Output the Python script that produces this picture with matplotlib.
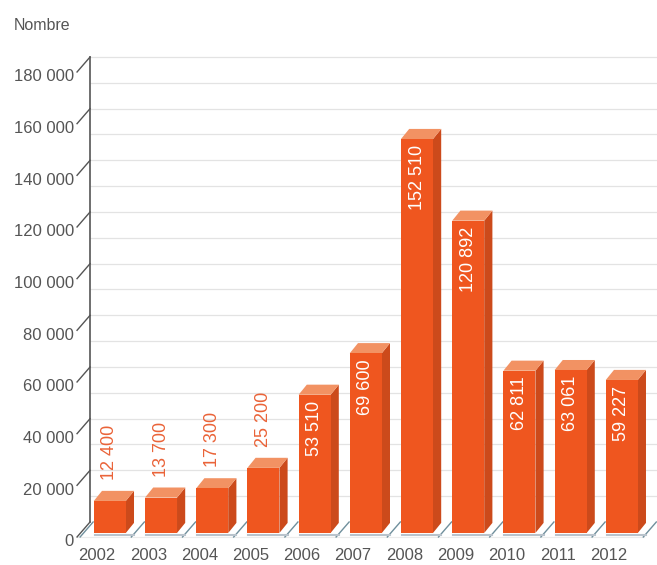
import numpy as np
import matplotlib
matplotlib.use("Agg")
import matplotlib.pyplot as plt
from matplotlib.patches import Polygon

plt.rcParams['font.family'] = ['Liberation Sans', 'DejaVu Sans']

# data
years = ['2002', '2003', '2004', '2005', '2006', '2007',
         '2008', '2009', '2010', '2011', '2012']
values = [12400, 13700, 17300, 25200, 53510, 69600,
          152510, 120892, 62811, 63061, 59227]
value_labels = ['12 400', '13 700', '17 300', '25 200', '53 510', '69 600',
                '152 510', '120 892', '62 811', '63 061', '59 227']
yticks = [0, 20000, 40000, 60000, 80000, 100000, 120000, 140000, 160000, 180000]
ytick_labels = ['0', '20 000', '40 000', '60 000', '80 000', '100 000',
                '120 000', '140 000', '160 000', '180 000']

front = '#EF561F'
side = '#CC4A1B'
top = '#F29263'
text_grey = '#555555'

fig = plt.figure(figsize=(6.57, 5.65), dpi=100)
ax = fig.add_axes([0.1087, 0.0496, 0.8572, 0.823])
ax.set_xlim(-0.5, 10.5)
ax.set_ylim(0, 180000)
for s in ax.spines.values():
    s.set_visible(False)
ax.set_yticks([])

# depth of the fake 3D (data units)
wall_dx, wall_dy = 0.254, 5800
bar_dx, bar_dy = 0.16, 3900
rec_dx, rec_dy = 0.25, 1550
bar_w = 0.625
left = -0.39
right = 10.68

# back wall grid
grid_vals = np.arange(10000, 190000, 10000)
ax.hlines(grid_vals + wall_dy, left + wall_dx, right + wall_dx + 0.3,
          color='#e3e3e3', lw=0.9, zorder=1, clip_on=False)
ax.plot([left + wall_dx, left + wall_dx], [wall_dy, 180000 + wall_dy],
        color='#555555', lw=1.2, zorder=2, clip_on=False)

# slanted ticks and labels
for v, lab in zip(yticks, ytick_labels):
    ax.plot([left, left + wall_dx], [v, v + wall_dy], color='#555555',
            lw=1.0, zorder=2, clip_on=False)
    ax.text(left - 0.06, v - 1900, lab, ha='right', va='center',
            fontsize=12, color=text_grey, clip_on=False)

# floor
ax.plot([left, right], [0, 0], color='#ececec', lw=0.8, zorder=1, clip_on=False)
for i in range(len(years) + 1):
    xs = i - 0.33
    ax.plot([xs, xs + wall_dx], [0, wall_dy], color='#6f8f9c', lw=1.0,
            zorder=2, clip_on=False)

# bars
x = np.arange(len(years))
for i, v in enumerate(values):
    x0 = x[i] + rec_dx - bar_w / 2
    x1 = x[i] + rec_dx + bar_w / 2
    y0 = rec_dy
    y1 = rec_dy + v
    ax.add_patch(Polygon([[x1, y0], [x1 + bar_dx, y0 + bar_dy],
                          [x1 + bar_dx, y1 + bar_dy], [x1, y1]],
                         closed=True, fc=side, ec='none', zorder=3, clip_on=False))
    ax.add_patch(Polygon([[x0, y1], [x0 + bar_dx, y1 + bar_dy],
                          [x1 + bar_dx, y1 + bar_dy], [x1, y1]],
                         closed=True, fc=top, ec='none', zorder=3, clip_on=False))
    ax.bar(x[i] + rec_dx, v, width=bar_w, bottom=rec_dy, color=front,
           zorder=4, clip_on=False)
    ax.plot([x0 + 0.02, x1 + bar_dx], [y0 - 800, y0 - 800], color='#b9c3cc',
            lw=1.5, zorder=2, clip_on=False)
    if v > 40000:
        ax.text(x[i] + rec_dx, y1 - 2300, value_labels[i], rotation=90,
                ha='center', va='top', color='white', fontsize=13, zorder=5)
    else:
        ax.text(x[i] + rec_dx, y1 + 8100, value_labels[i], rotation=90,
                ha='center', va='bottom', color='#EA6338', fontsize=13, zorder=5)

ax.set_xticks(x, years)
ax.tick_params(axis='x', length=0, pad=8, labelsize=12, labelcolor=text_grey)

fig.text(14 / 657, 1 - 25 / 565, 'Nombre', ha='left', va='center',
         fontsize=11.5, color=text_grey)

plt.savefig('out.png', dpi=100)
